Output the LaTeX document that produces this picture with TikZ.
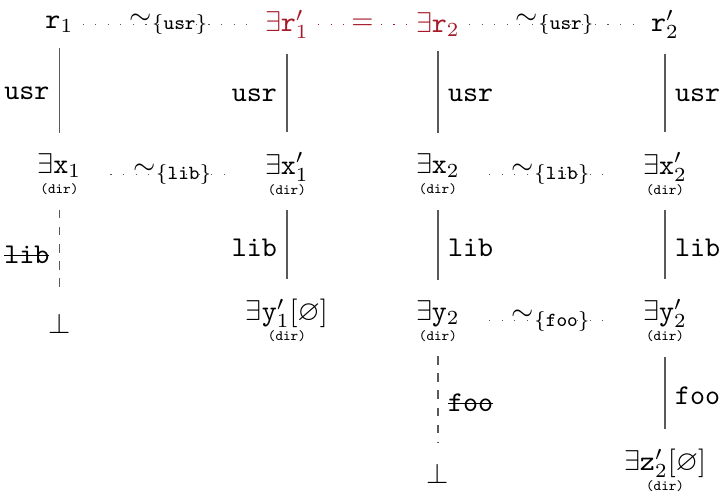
\documentclass[tikz,border=0pt]{standalone}
\usepackage{amssymb}
\usetikzlibrary{positioning}
\definecolor{EqRed}{RGB}{165,25,40}
\definecolor{EdgeGray}{RGB}{90,90,90}
\newcommand{\dirtag}{{\tiny\texttt{(dir)}}}
\newcommand{\struck}[1]{\setbox0\hbox{#1}\rlap{\rule[0.55ex]{\wd0}{0.5pt}}\box0}

\begin{document}
\begin{tikzpicture}[
    var/.style={
        align=center,
        inner sep=3pt
    },
    link/.style={
        draw=EdgeGray,
        shorten <=2pt,
        shorten >=4pt
    },
    cut/.style={
        link,
        dashed
    },
    equiv/.style={
        draw=EdgeGray,
        loosely dotted
    },
    rel/.style={
        midway,
        inner sep=0pt,
        text=black
    },
    lab/.style={
        font=\ttfamily
    }
]
\useasboundingbox (0,0) rectangle (8.833,-6.057);

% top row
\node[var] (r1) at (0.73,-0.30) {$\mathtt{r}_1$};
\node[var,text=EqRed] (r1p) at (3.525,-0.30) {$\exists\mathtt{r}'_1$};
\node[var,text=EqRed] (r2) at (5.38,-0.30) {$\exists\mathtt{r}_2$};
\node[var] (r2p) at (8.17,-0.30) {$\mathtt{r}'_2$};

% x row
\node[var] (x1) at (0.73,-2.14) {$\exists\mathtt{x}_1$\\[-5pt]\dirtag};
\node[var] (x1p) at (3.525,-2.14) {$\exists\mathtt{x}'_1$\\[-5pt]\dirtag};
\node[var] (x2) at (5.38,-2.14) {$\exists\mathtt{x}_2$\\[-5pt]\dirtag};
\node[var] (x2p) at (8.17,-2.14) {$\exists\mathtt{x}'_2$\\[-5pt]\dirtag};

% y row
\node[var] (bot1) at (0.73,-3.98) {$\bot$};
\node[var] (y1p) at (3.525,-3.94) {$\exists\mathtt{y}'_1[\varnothing]$\\[-5pt]\dirtag};
\node[var] (y2) at (5.38,-3.94) {$\exists\mathtt{y}_2$\\[-5pt]\dirtag};
\node[var] (y2p) at (8.17,-3.94) {$\exists\mathtt{y}'_2$\\[-5pt]\dirtag};

% z row
\node[var] (bot2) at (5.38,-5.82) {$\bot$};
\node[var] (z2p) at (8.17,-5.78) {$\exists\mathtt{z}'_2[\varnothing]$\\[-5pt]\dirtag};

% equivalences
\draw[equiv] (r1) -- (r1p)
    node[rel] {$\sim_{\{\mathtt{usr}\}}$};
\draw[equiv,draw=EqRed] (r1p) -- (r2)
    node[rel,text=EqRed] {$=$};
\draw[equiv] (r2) -- (r2p)
    node[rel] {$\sim_{\{\mathtt{usr}\}}$};
\draw[equiv,shorten <=7pt,shorten >=7pt] (x1) -- (x1p)
    node[rel] {$\sim_{\{\mathtt{lib}\}}$};
\draw[equiv,shorten <=7pt,shorten >=7pt] (x2) -- (x2p)
    node[rel] {$\sim_{\{\mathtt{lib}\}}$};
\draw[equiv,shorten <=7pt,shorten >=7pt] (y2) -- (y2p)
    node[rel] {$\sim_{\{\mathtt{foo}\}}$};

% fields
\draw[link] (r1) -- (x1) node[midway,left,lab] {usr};
\draw[link] (r1p) -- (x1p) node[midway,left,lab] {usr};
\draw[link] (r2) -- (x2) node[midway,right,lab] {usr};
\draw[link] (r2p) -- (x2p) node[midway,right,lab] {usr};

\draw[cut] (x1) -- (bot1) node[midway,left,lab] {\struck{lib}};
\draw[link] (x1p) -- (y1p) node[midway,left,lab] {lib};
\draw[link] (x2) -- (y2) node[midway,right,lab] {lib};
\draw[link] (x2p) -- (y2p) node[midway,right,lab] {lib};

\draw[cut] (y2) -- (bot2) node[midway,right,lab] {\struck{foo}};
\draw[link] (y2p) -- (z2p) node[midway,right,lab] {foo};

\end{tikzpicture}
\end{document}
